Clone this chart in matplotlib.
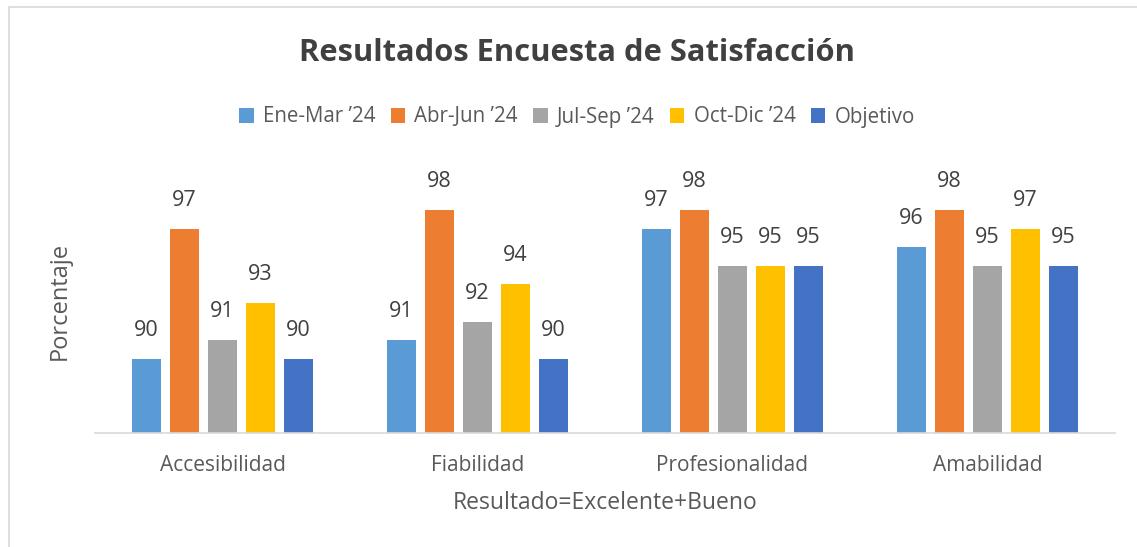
import matplotlib
matplotlib.use("Agg")
import matplotlib.pyplot as plt
import numpy as np
from matplotlib.patches import Rectangle, Patch

categories = ["Accesibilidad", "Fiabilidad", "Profesionalidad", "Amabilidad"]
series_names = ["Ene-Mar \u201924", "Abr-Jun \u201924", "Jul-Sep \u201924", "Oct-Dic \u201924", "Objetivo"]
ene_mar = [90, 91, 97, 96]
abr_jun = [97, 98, 98, 98]
jul_sep = [91, 92, 95, 95]
oct_dic = [93, 94, 95, 97]
objetivo = [90, 90, 95, 95]
series_values = [ene_mar, abr_jun, jul_sep, oct_dic, objetivo]
colors = ["#5B9BD5", "#ED7D31", "#A5A5A5", "#FFC000", "#4472C4"]

plt.rcParams['font.family'] = ['Open Sans', 'DejaVu Sans']
txt = "#595959"

fig = plt.figure(figsize=(11.37, 5.47), dpi=100)
fig.patches.append(Rectangle((9/1137, -0.05), 1.2, 1 - 7/547 + 0.05, transform=fig.transFigure,
                             fill=False, edgecolor="#D9D9D9", linewidth=1.2))
ax = fig.add_axes([95/1137, 1 - 433/547, 1020/1137, (433 - 173)/547])

x = np.arange(len(categories))
pitch = 38/255
width = 29/255
for i, (vals, c) in enumerate(zip(series_values, colors)):
    pos = x + (i - 2) * pitch
    ax.bar(pos, np.array(vals) - 86, bottom=86, width=width, color=c, label=series_names[i])
    for p, v in zip(pos, vals):
        ax.annotate(str(v), (p, v), xytext=(0, 13), textcoords="offset points",
                    ha="center", va="bottom", fontsize=15.5, color="#404040")

ax.set_xlim(-0.5, 3.5)
ax.set_ylim(86, 100)
ax.set_yticks([])
ax.set_xticks(x)
ax.set_xticklabels(categories, fontsize=15, color=txt)
ax.tick_params(axis="x", length=0, pad=16)
for s in ["top", "right", "left"]:
    ax.spines[s].set_visible(False)
ax.spines["bottom"].set_color("#D9D9D9")
ax.spines["bottom"].set_linewidth(1.2)

fig.text(605/1137, 1 - 503/547, "Resultado=Excelente+Bueno", ha="center", va="center", fontsize=16.5, color=txt)
fig.text(60/1137, 1 - 301/547, "Porcentaje", ha="center", va="center", rotation=90, fontsize=17, color=txt)
fig.text(577/1137, 1 - 53/547, "Resultados Encuesta de Satisfacción", ha="center", va="center",
         fontsize=22.2, fontweight="bold", color="#404040")

handles = [Patch(facecolor=c) for c in colors]
fig.legend(handles, series_names, loc="center", bbox_to_anchor=(577/1137, 1 - 117/547), ncol=5,
           frameon=False, fontsize=14.8, labelcolor=txt, handlelength=0.7, handleheight=0.7,
           handletextpad=0.45, columnspacing=0.75)

fig.savefig("out.png", dpi=100)
